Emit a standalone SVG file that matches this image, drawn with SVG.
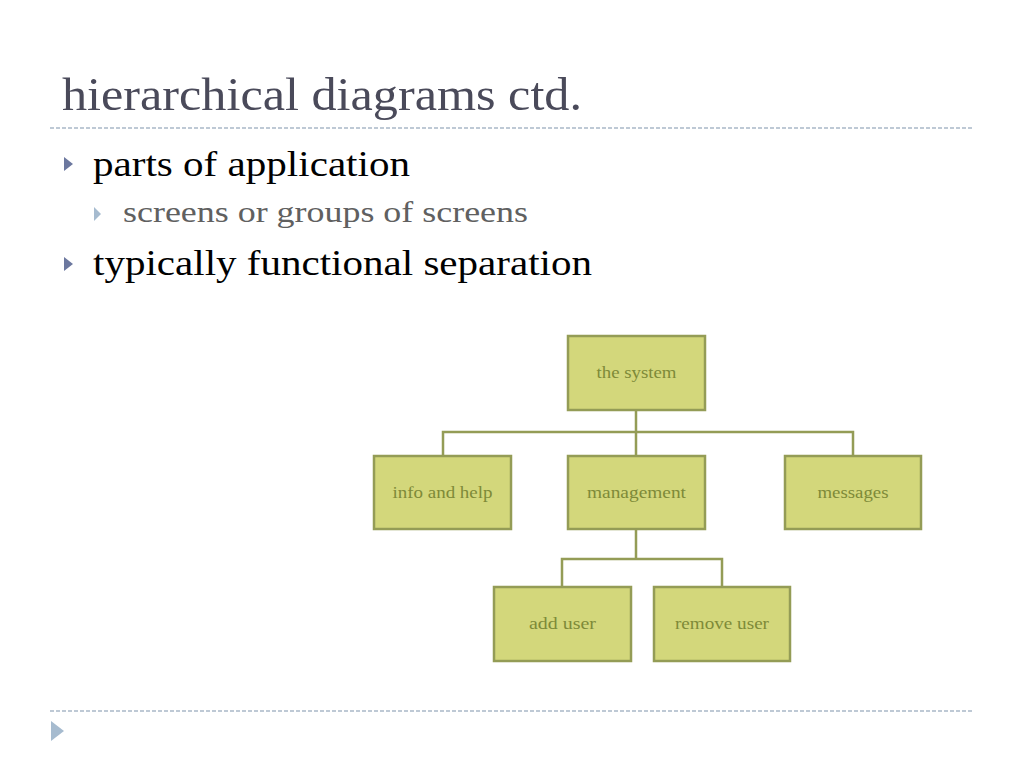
<svg xmlns="http://www.w3.org/2000/svg" width="1024" height="768" viewBox="0 0 1024 768">
<style>
.title{font-family:"Liberation Serif","DejaVu Serif",serif;font-size:47px;fill:#4a4a5a}
.l1{font-family:"Liberation Serif","DejaVu Serif",serif;font-size:36px;fill:#000}
.l2{font-family:"Liberation Serif","DejaVu Serif",serif;font-size:29px;fill:#606060}
.box{fill:#d3d77b;stroke:#949c56;stroke-width:2.5}
.lbl{font-family:"Liberation Serif","DejaVu Serif",serif;font-size:17px;fill:#7e8a38;text-anchor:middle}
.conn{fill:none;stroke:#949c56;stroke-width:2.5}
.dash{stroke:#a9b8c8;stroke-width:1.3;stroke-dasharray:4 2}
.b1{fill:#6c789f}
.b2{fill:#a6bbcf}
</style>
<rect width="1024" height="768" fill="#fff"/>
<text class="title" x="62" y="110" textLength="520" lengthAdjust="spacingAndGlyphs">hierarchical diagrams ctd.</text>
<line class="dash" x1="50" y1="128" x2="972" y2="128"/>
<polygon class="b1" points="64,157 73,164 64,171"/>
<text class="l1" x="93" y="176" textLength="317" lengthAdjust="spacingAndGlyphs">parts of application</text>
<polygon class="b2" points="94,207 101,214 94,221"/>
<text class="l2" x="123" y="222" textLength="405" lengthAdjust="spacingAndGlyphs">screens or groups of screens</text>
<polygon class="b1" points="64,257 73,264 64,271"/>
<text class="l1" x="93" y="275" textLength="499" lengthAdjust="spacingAndGlyphs">typically functional separation</text>
<g id="connectors">
<path class="conn" d="M636,410 V456 M443,456 V432 H853 V456"/>
<path class="conn" d="M636,530 V559 M562,587 V559 H722 V587"/>
</g>
<g id="n-system"><rect class="box" x="568" y="336" width="137" height="74"/><text class="lbl" x="636.5" y="378" textLength="80" lengthAdjust="spacingAndGlyphs">the system</text></g>
<g id="n-info"><rect class="box" x="374" y="456" width="137" height="73"/><text class="lbl" x="442.5" y="498" textLength="100" lengthAdjust="spacingAndGlyphs">info and help</text></g>
<g id="n-management"><rect class="box" x="568" y="456" width="137" height="73"/><text class="lbl" x="636.5" y="498" textLength="99" lengthAdjust="spacingAndGlyphs">management</text></g>
<g id="n-messages"><rect class="box" x="785" y="456" width="136" height="73"/><text class="lbl" x="853" y="498" textLength="71" lengthAdjust="spacingAndGlyphs">messages</text></g>
<g id="n-add"><rect class="box" x="494" y="587" width="137" height="74"/><text class="lbl" x="562.5" y="629" textLength="67" lengthAdjust="spacingAndGlyphs">add user</text></g>
<g id="n-remove"><rect class="box" x="654" y="587" width="136" height="74"/><text class="lbl" x="722" y="629" textLength="94" lengthAdjust="spacingAndGlyphs">remove user</text></g>
<line class="dash" x1="50" y1="711" x2="972" y2="711"/>
<polygon class="b2" points="51,721 64,731 51,741"/>
</svg>
